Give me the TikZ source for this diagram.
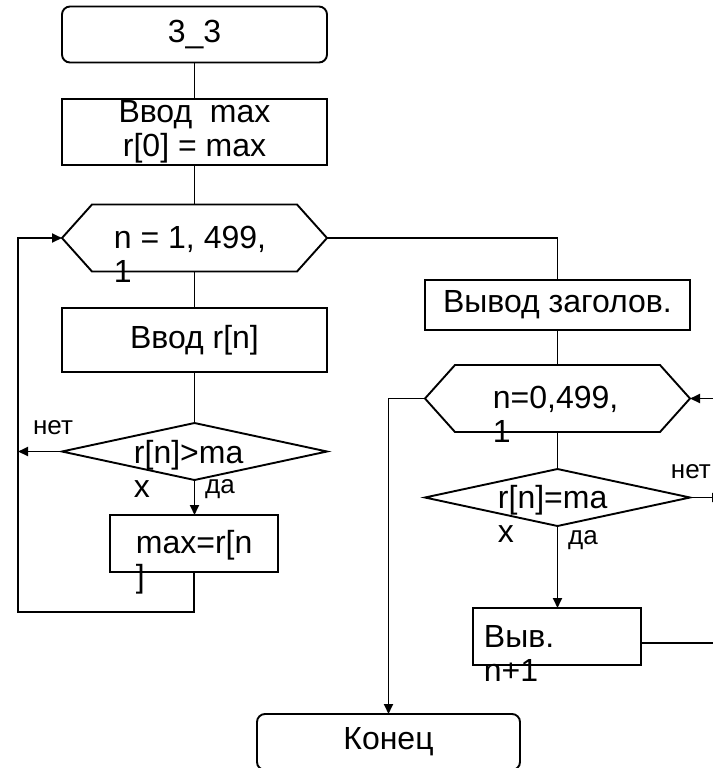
\documentclass[tikz,border=0pt]{standalone}
\usepackage{fontspec}
\setmainfont{Liberation Sans}
\usetikzlibrary{arrows.meta}
\usetikzlibrary{shapes.geometric,positioning}

\newcommand{\bigtxt}{\fontsize{16}{17}\selectfont}
\newcommand{\smalltxt}{\fontsize{13}{14}\selectfont}
% outline of a loop header drawn round an invisible box
\newcommand{\hexframe}[1]{%
  \draw (#1.west) -- ([xshift=15pt]#1.north west) -- ([xshift=-15pt]#1.north east)
    -- (#1.east) -- ([xshift=-15pt]#1.south east) -- ([xshift=15pt]#1.south west) -- cycle;}

\begin{document}
\begin{tikzpicture}[
        x=0.5pt, y=-0.5pt, line width=0.95pt,
        term/.style={draw, rounded corners=4pt, minimum width=132.5pt, minimum height=28pt, inner sep=0pt, outer sep=0pt, font=\bigtxt},
        box/.style={draw, minimum width=132.5pt, inner sep=0pt, outer sep=0pt, align=center, font=\bigtxt},
        hexbox/.style={minimum width=132.5pt, minimum height=33.5pt, inner sep=0pt, outer sep=0pt},
        decision/.style={diamond, draw, minimum width=132.5pt, minimum height=28.5pt, inner sep=0pt, outer sep=0pt},
        txt/.style={anchor=west, align=left, inner sep=0pt, font=\bigtxt},
        lbl/.style={inner sep=0pt, font=\smalltxt},
        arrow/.style={-{Triangle[length=5pt,width=4.5pt]}}
    ]
        \useasboundingbox (0,0) rectangle (713,768);
        \clip (0,0) rectangle (713,768);

        % left column: reading the data
        \node[term] (start) at (194.5,34.5) {3\_3};
        \node[box, minimum height=33pt] (inmax) at (194.5,132) {Ввод\ \ max\\r[0] = max};
        \node[hexbox] (loopA) at (194.5,238) {};
        \hexframe{loopA}
        \node[txt] (loopAtxt) at (113,254) {n = 1, 499,\\1};
        \node[box, minimum height=32pt] (inr) at (194.5,340) {Ввод r[n]};
        \node[decision] (condA) at (194.5,451.5) {};
        \node[txt] (condAtxt) at (133,469) {r[n]>ma\\x};
        \node[box, minimum width=84pt, minimum height=28.5pt] (setmax) at (194,543.5) {};
        \node[txt] (setmaxtxt) at (135,562) {max=r[n\\]};
        \coordinate (loopbot) at (18,612);

        % right column: printing
        \node[box, minimum height=25pt] (header) at (557.5,305) {Вывод заголов.};
        \node[hexbox] (loopB) at (557.5,398.5) {};
        \hexframe{loopB}
        \node[txt] (loopBtxt) at (492,414) {n=0,499,\\1};
        \node[decision] (condB) at (557.5,497.5) {};
        \node[txt] (condBtxt) at (497,514) {r[n]=ma\\x};
        \node[box, minimum width=84pt, minimum height=28.5pt] (outn) at (557,636.5) {};
        \node[txt] (outntxt) at (483,653) {Выв.\\n+1};
        \node[term, minimum width=131.5pt] (finish) at (388.5,742) {Конец};
        \coordinate (offB) at (725,398.5);
        \coordinate (offC) at (722,497.5);
        \coordinate (offN) at (725,643);

        % connectors
        \draw (start) -- (inmax);
        \draw (inmax) -- (loopA);
        \draw (loopA) -- (inr);
        \draw (inr) -- (condA);
        \draw[arrow] (condA.south) -- (condA.south |- setmax.north);
        \draw[arrow] (condA.west) -- (condA.west -| loopbot);
        \draw[arrow] (setmax.south) |- (loopbot) |- (loopA.west);
        \draw (loopA.east) -| (header.north);
        \draw (header) -- (loopB);
        \draw (loopB) -- (condB);
        \draw[arrow] (condB.south) -- (condB.south |- outn.north);
        \draw[arrow] (condB.east) -- (offC);
        \draw[arrow] (offB) -- (loopB.east);
        \draw (offN -| outn.east) -- (offN);
        \draw[arrow] (loopB.west) -| (finish.north);

        % branch labels
        \node[lbl] (noA) at (53,427.5) {нет};
        \node[lbl] (yesA) at (220,489) {да};
        \node[lbl, anchor=west] (noB) at (670,472) {нет};
        \node[lbl] (yesB) at (583,540) {да};
    \end{tikzpicture}
\end{document}
